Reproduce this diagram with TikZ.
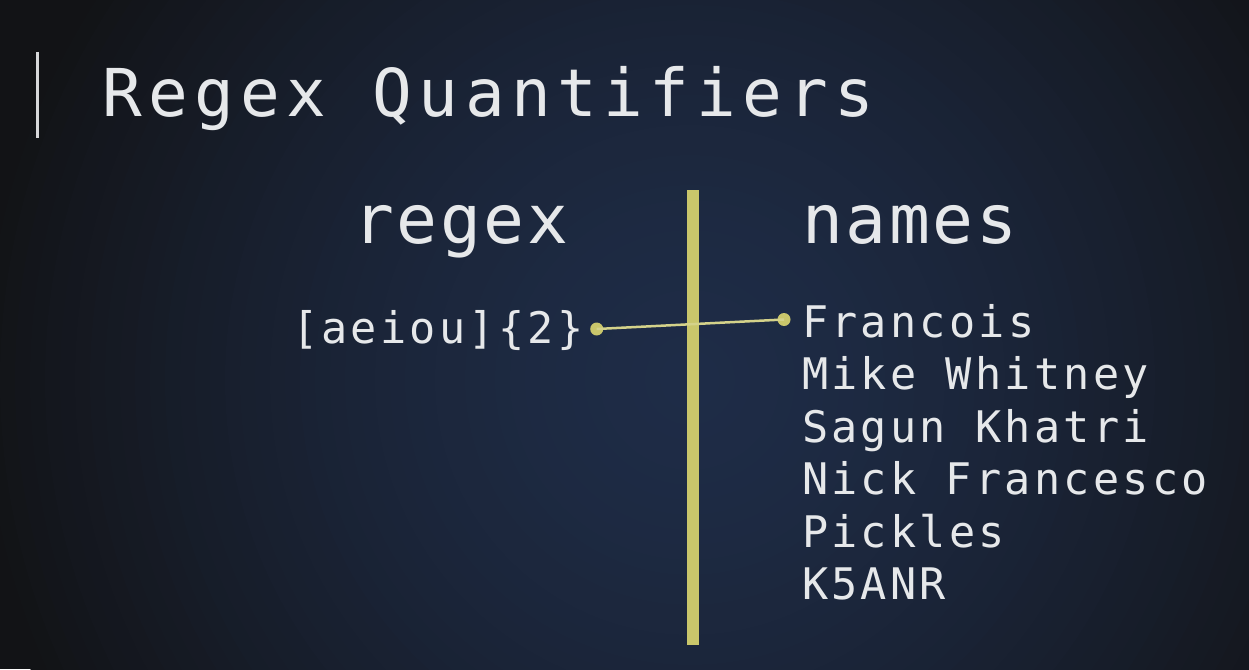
\documentclass[tikz,border=0pt]{standalone}
\usepackage{fontspec}
\newfontfamily\mono[LetterSpace=7.5]{DejaVu Sans Mono}
\newfontfamily\monoT[LetterSpace=9.8]{DejaVu Sans Mono}
\newfontfamily\monoH[LetterSpace=4]{DejaVu Sans Mono}
\definecolor{bgA}{HTML}{1E2C47}
\definecolor{bgE}{HTML}{121316}
\definecolor{txt}{HTML}{E6E8EA}
\definecolor{olive}{HTML}{C9C66B}
\definecolor{oliveline}{HTML}{D4D28A}
\tikzset{
  txtnode/.style={inner sep=0pt, outer sep=0pt, text=txt, anchor=base west},
  titletext/.style={txtnode, font=\monoT\fontsize{66}{70}\selectfont},
  headtext/.style={txtnode, font=\monoH\fontsize{68}{72}\selectfont},
  itemtext/.style={txtnode, font=\mono\fontsize{43.5}{52}\selectfont},
  dot/.style={circle, fill=olive, inner sep=0pt, minimum size=13pt},
}
\begin{document}
\begin{tikzpicture}[x=1pt,y=-1pt]
\useasboundingbox (0,0) rectangle (1249,669);
\fill[bgE] (0,0) rectangle (1249,669);
\begin{scope}
\clip (0,0) rectangle (1249,669);
\foreach \rr in {720,705,...,0} {
  \pgfmathsetmacro\pp{100*(1-(\rr/720)^1.5)}
  \fill[bgA!\pp!bgE] (690,380) circle [radius=\rr];
}
\end{scope}
% title marker
\draw[txt!85!gray, line width=3pt] (37,52) -- (37,138);
\node[titletext] (title) at (102,116) {Regex Quantifiers};
% headers
\node[headtext] (hregex) at (353,243) {regex};
\node[headtext] (hnames) at (802,243) {names};
% divider bar
\fill[olive] (687.3,190) rectangle (698.7,645);
% regex
\node[itemtext] (rx) at (292,343) {[aeiou]\{2\}};
% names
\node[itemtext] (n1) at (802,337) {Francois};
\node[itemtext] (n2) at (802,389.5) {Mike Whitney};
\node[itemtext] (n3) at (802,442) {Sagun Khatri};
\node[itemtext] (n4) at (802,494.5) {Nick Francesco};
\node[itemtext] (n5) at (802,547) {Pickles};
\node[itemtext] (n6) at (802,599.5) {K5ANR};
% connector
\node[dot] (d1) at (596.7,329) {};
\node[dot] (d2) at (784,319.5) {};
\draw[oliveline, line width=2.5pt] (d1.center) -- (d2.center);
\end{tikzpicture}
\end{document}
